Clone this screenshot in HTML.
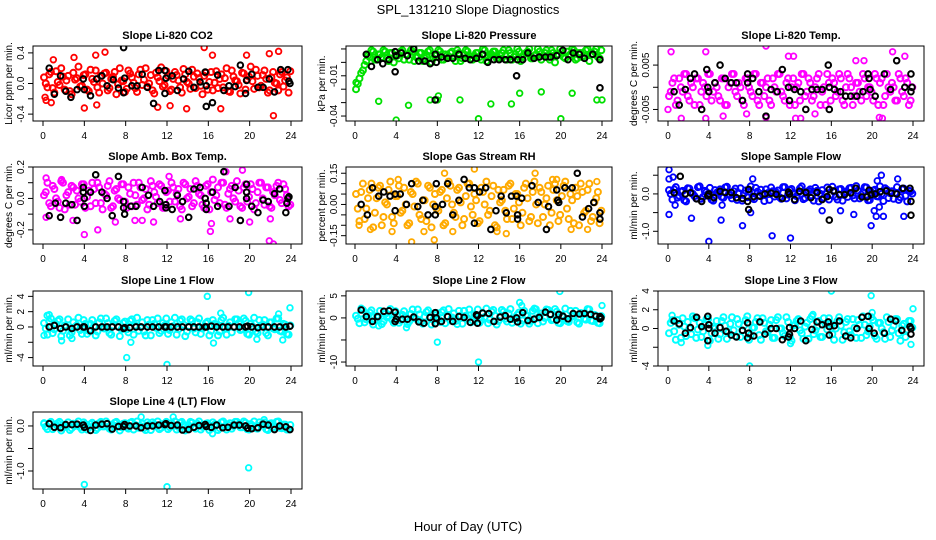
<!DOCTYPE html>
<html><head><meta charset="utf-8"><style>
body{margin:0;background:#fff;}
svg{display:block;font-family:"Liberation Sans",sans-serif;}
</style></head><body>
<svg id="chart" width="936" height="540" viewBox="0 0 936 540">
<rect width="936" height="540" fill="#fff"/>
<text x="468" y="14" font-size="13" text-anchor="middle">SPL_131210  Slope Diagnostics</text>
<text x="468" y="531" font-size="13" text-anchor="middle">Hour of Day (UTC)</text>
</svg>
<script>
// ---- data (values per minute) ----
const xTicks=[0,4,8,12,16,20,24];
const co2Band=[0.08,-0.05,0.15,-0.12,0.02,0.2,-0.08,0.1,-0.14,0.05,0.22,-0.03,0.12,-0.1,0.06,0.17,-0.12,0.0,0.14,-0.06,0.09,-0.14,0.2,0.03,-0.07,0.13,0.01,-0.11,0.18,0.05,-0.04,0.11,-0.13,0.08,0.21,-0.02,0.1,-0.08,0.15,0.04,-0.12,0.12,0.0,0.18,-0.06,0.07,-0.14,0.14,0.02,-0.09,0.16,0.06,-0.05,0.2,-0.11,0.09,0.03,-0.13,0.13,0.05,0.22,-0.07,0.1,-0.03,0.17,-0.12,0.08,0.01,-0.09,0.15,0.04,-0.12];
const co2Band2=[0.0,0.12,-0.06,0.16,-0.02,0.09,0.04,-0.1,0.14,0.07,-0.04,0.11,-0.08,0.18,0.02,-0.05,0.1,0.13,-0.09,0.06,0.15,-0.01,0.04,-0.11,0.17,0.08,-0.06,0.12,-0.02,0.2,0.0,-0.09,0.14,0.03,-0.04,0.16,-0.1,0.06,0.11,-0.05,0.19,0.02,-0.07,0.09,0.13,-0.03,0.1,-0.08,0.15,0.01,-0.06,0.12,0.07,-0.1,0.17,0.04,-0.02,0.14,-0.08,0.09,0.03,0.18,-0.05,0.11,0.06,-0.09,0.15,0.0,0.12,-0.04,0.08,0.16];
const co2Out=[[0.2,-0.18],[0.3,-0.22],[1,0.31],[15.6,0.47],[22.3,-0.42],[22.8,0.42],[6,0.41],[16.4,0.37],[4,-0.32],[5.2,-0.28],[13.9,-0.33],[17.2,-0.33],[11.1,-0.31],[12.3,-0.29],[19.7,0.37],[21.9,0.39],[0.8,-0.25],[5.1,0.37],[3,0.34]];
const co2Blk=[[0.6,0.2],[1.1,-0.14],[1.7,0.1],[2.2,-0.1],[2.7,-0.18],[3.3,-0.08],[3.9,0.06],[4,-0.08],[4.6,-0.16],[5.2,0.06],[5.7,0.1],[6.2,-0.03],[6.8,0.05],[7.3,-0.06],[7.8,0.47],[7.8,-0.12],[7.9,0.07],[8.6,-0.03],[9.1,-0.03],[9.6,0.12],[10.1,-0.05],[10.7,-0.26],[11.2,0.17],[11.8,0.17],[11.8,-0.13],[11.9,0.07],[12.5,0.1],[13,-0.09],[13.6,0.06],[14.1,0.16],[14.6,-0.05],[15.2,0.02],[15.7,0.15],[15.8,-0.3],[15.8,-0.03],[16.4,-0.25],[16.9,0.11],[17.5,-0.09],[18,-0.03],[18.6,-0.04],[19.1,0.24],[19.6,-0.13],[19.7,0.04],[20.2,0.12],[20.8,-0.05],[21.3,-0.05],[21.9,0.06],[22.4,-0.11],[23,0.18],[23.7,0.18],[23.8,0.03],[23.9,0.0]];

const presBand=[-0.02,-0.012,-0.006,0.001,0.004,0.008,0.002,0.006,0.009,0.003,0.007,0.0,0.005,0.008,0.002,0.006,0.009,0.001,0.004,0.007,0.003,0.008,0.0,0.005,0.009,0.002,0.006,0.004,0.008,0.001,0.007,0.003,0.009,0.005,0.002,0.007,0.004,0.01,0.001,0.006,0.008,0.003,0.005,0.009,0.002,0.007,0.004,0.01,0.001,0.006,0.008,0.003,0.005,0.01,0.002,0.007,0.004,0.009,0.0,0.006,0.008,0.003,0.005,0.01,0.002,0.007,0.004,0.009,0.001,0.006,0.01,0.003];
const presBand2=[-0.016,-0.008,-0.002,0.005,0.009,0.002,0.006,0.004,0.008,0.001,0.007,0.005,0.003,0.009,0.006,0.002,0.008,0.004,0.007,0.001,0.005,0.009,0.003,0.006,0.008,0.002,0.005,0.007,0.004,0.009,0.001,0.006,0.008,0.003,0.005,0.007,0.002,0.009,0.004,0.006,0.008,0.003,0.007,0.005,0.009,0.002,0.006,0.008,0.004,0.007,0.01,0.003,0.006,0.008,0.005,0.009,0.002,0.007,0.005,0.01,0.004,0.008,0.006,0.009,0.003,0.007,0.005,0.01,0.006,0.008,0.004,0.009];
const presOut=[[2.3,-0.029],[4,-0.043],[5.2,-0.032],[7.3,-0.028],[8,-0.028],[8.1,-0.025],[10.2,-0.028],[12,-0.042],[13.2,-0.031],[15.2,-0.031],[16,-0.023],[18.1,-0.022],[20,-0.042],[21.1,-0.023],[23.5,-0.028],[24,-0.028],[5.7,0.011],[0.1,-0.015]];
const presBlk=[[1.1,0.006],[1.6,-0.003],[2.2,0.002],[2.7,-0.001],[3.3,0.002],[3.9,0.008],[3.9,-0.007],[4,0.005],[4.5,0.007],[5.1,0.005],[5.7,0.01],[6.2,0.001],[6.8,0.001],[7.3,-0.001],[7.8,0.006],[7.8,-0.028],[7.9,0.0],[8.4,0.004],[9,0.003],[9.5,0.003],[10.1,0.006],[10.7,0.003],[11.2,0.002],[11.8,0.003],[12.4,0.006],[12.9,0.0],[13.5,0.002],[14,0.002],[14.6,0.002],[15.1,0.002],[15.7,-0.01],[15.8,0.002],[16.3,0.002],[16.8,0.007],[17.4,0.003],[17.9,0.004],[18.5,0.004],[19,0.004],[19.6,0.005],[20.2,0.009],[20.7,0.002],[21.2,0.007],[21.8,0.006],[22.3,0.003],[23.1,0.006],[23.8,0.002],[23.8,-0.019]];

const tempBand=[-0.002,0.001,-0.004,0.002,-0.001,0.003,-0.003,0.0,0.002,-0.004,0.001,-0.002,0.003,-0.001,0.0,-0.003,0.002,-0.004,0.001,0.003,-0.002,0.0,-0.004,0.002,-0.001,0.003,-0.003,0.001,-0.002,0.002,-0.004,0.0,0.003,-0.001,-0.003,0.002,0.0,-0.004,0.001,0.003,-0.002,0.002,-0.003,0.0,0.003,-0.001,-0.004,0.001,0.002,-0.002,0.003,-0.003,0.0,0.002,-0.004,0.001,-0.001,0.003,-0.002,0.0,-0.003,0.002,0.001,-0.004,0.003,-0.001,0.0,-0.003,0.002,-0.002,0.001,-0.003];
const tempBand2=[-0.001,0.002,-0.003,0.0,0.003,-0.002,0.001,-0.004,0.002,-0.001,0.0,0.003,-0.003,0.001,-0.002,0.002,-0.004,0.0,0.003,-0.001,0.001,-0.003,0.002,0.0,-0.002,0.003,-0.004,0.001,0.0,-0.003,0.002,-0.001,0.003,-0.002,0.001,-0.004,0.002,0.0,-0.003,0.003,-0.001,0.001,-0.002,0.002,-0.004,0.0,0.003,-0.003,0.001,-0.001,0.002,-0.004,0.003,0.0,-0.002,0.001,-0.003,0.002,0.0,-0.001,0.003,-0.004,0.002,-0.002,0.0,0.001,-0.003,0.003,-0.001,0.002,-0.004,0.0];
const tempOut=[[0.3,0.008],[3.7,0.008],[9.6,0.0093],[22,0.008],[23.2,0.007],[1.3,-0.007],[3.7,-0.007],[5.4,-0.0065],[9.6,-0.0068],[12.5,-0.007],[13,-0.007],[21,-0.007],[20.7,-0.0068],[19.2,0.006],[18.4,0.006],[11.8,0.007],[12.3,0.007],[0,-0.005],[7.7,-0.006],[14.4,-0.006]];
const tempBlk=[[0.6,-0.001],[1.1,-0.004],[1.7,-0.0005],[2.2,0.002],[2.6,0.003],[3.3,-0.005],[3.8,0.004],[3.9,0.0],[4,-0.001],[4.6,0.001],[5.1,0.005],[5.6,0.002],[6.2,0.001],[6.7,0.001],[7.3,-0.003],[7.8,0.001],[7.8,0.003],[8.3,0.002],[8.9,-0.001],[9.6,-0.0065],[10.1,-0.0005],[10.7,-0.001],[11.2,0.004],[11.8,0.0],[11.9,-0.003],[12.4,-0.0005],[13,-0.001],[13.5,-0.005],[14.1,-0.0005],[14.6,-0.0005],[15.1,-0.0005],[15.7,0.005],[15.8,-0.005],[15.8,0.0],[16.3,-0.0005],[16.9,-0.001],[17.4,-0.002],[17.9,-0.002],[18.5,-0.002],[19.1,-0.001],[19.6,0.003],[19.7,0.002],[19.8,-0.0005],[20.3,-0.002],[21.2,0.003],[21.8,-0.0005],[22.4,0.006],[23.2,0.0],[23.8,0.003],[23.8,-0.001],[23.9,0.0]];

const ambBand=[0.02,0.1,-0.05,0.06,-0.02,0.11,-0.07,0.04,0.08,-0.04,0.0,0.09,-0.06,0.05,0.1,-0.03,0.07,-0.07,0.02,0.11,-0.05,0.06,-0.01,0.09,-0.06,0.03,0.1,-0.04,0.07,0.0,-0.07,0.11,0.04,-0.03,0.08,-0.06,0.05,0.1,-0.02,0.06,-0.07,0.09,0.01,-0.05,0.11,0.03,-0.04,0.08,-0.07,0.12,0.02,-0.03,0.1,-0.06,0.06,0.0,0.11,-0.05,0.07,-0.02,0.09,-0.07,0.04,0.1,-0.04,0.07,-0.06,0.02,0.1,-0.03,0.06,-0.05];
const ambBand2=[0.04,-0.03,0.08,0.0,-0.06,0.1,0.02,-0.04,0.07,0.05,-0.02,0.09,0.01,-0.05,0.06,0.1,-0.03,0.03,0.08,-0.06,0.05,0.0,0.09,-0.02,0.07,-0.05,0.02,0.1,-0.01,0.06,-0.04,0.08,0.01,0.09,-0.06,0.04,-0.02,0.07,0.03,-0.05,0.1,0.0,0.06,-0.03,0.08,0.02,-0.06,0.09,0.04,-0.01,0.07,0.1,-0.04,0.03,0.08,-0.02,0.05,-0.06,0.09,0.01,0.06,-0.03,0.1,0.0,0.07,-0.05,0.04,0.08,-0.01,0.09,0.02,-0.04];
const ambOut=[[4,-0.23],[5.3,-0.2],[16.2,-0.21],[21.9,-0.27],[22.3,-0.29],[19.3,0.18],[17.7,0.17],[7,-0.15],[8.9,-0.14],[9.6,-0.14],[10.7,-0.15],[13.3,-0.13],[16.3,-0.16],[18.1,-0.13],[20,-0.15],[22,-0.13],[0.3,-0.12],[2.9,-0.14],[12.2,0.14],[0.3,0.13],[1.8,0.12]];
const ambBlk=[[0.6,-0.11],[1.2,-0.03],[1.7,-0.12],[2.2,-0.03],[2.8,-0.04],[3.3,-0.14],[3.9,0.07],[3.9,0.04],[4,0.0],[4,-0.05],[4.6,0.04],[5.1,0.15],[5.7,0.04],[6.2,0.0],[6.7,-0.11],[7.3,0.14],[7.8,-0.02],[7.8,-0.06],[7.9,-0.1],[8.5,-0.05],[9,-0.05],[9.6,0.07],[10.2,0.02],[10.7,-0.05],[11.3,-0.02],[11.8,0.05],[11.9,-0.04],[11.9,-0.06],[12.5,-0.07],[13,0.02],[13.5,-0.02],[14.1,-0.12],[14.6,0.06],[15.2,0.07],[15.7,0.0],[15.8,-0.03],[15.8,-0.07],[16.4,0.04],[16.9,-0.05],[17.5,0.17],[18,-0.05],[18.6,0.07],[19.1,-0.14],[19.7,0.09],[19.7,0.04],[19.7,0.0],[20.2,-0.05],[20.8,-0.09],[21.3,-0.01],[21.8,-0.02],[22.4,0.03],[22.9,0.06],[23.5,-0.09],[23.6,-0.03],[23.7,0.0],[23.8,0.01]];

const rhBand=[0.05,-0.08,0.1,-0.02,0.07,-0.11,0.03,0.09,-0.06,0.0,0.11,-0.09,0.04,-0.04,0.08,-0.1,0.06,-0.01,0.1,-0.07,0.02,0.09,-0.11,0.05,-0.03,0.07,-0.09,0.11,0.0,-0.06,0.08,-0.1,0.04,0.1,-0.05,0.02,-0.08,0.06,0.11,-0.03,0.09,-0.11,0.01,0.07,-0.07,0.1,-0.02,0.05,-0.1,0.08,0.03,-0.06,0.11,-0.09,0.06,0.0,0.09,-0.04,0.1,-0.08,0.04,0.11,-0.07,0.02,0.08,-0.1,0.06,-0.03,0.1,-0.06,0.03,-0.09];
const rhBand2=[-0.02,0.06,-0.07,0.03,0.1,-0.04,0.08,-0.1,0.01,0.07,-0.06,0.04,0.09,-0.03,0.0,-0.09,0.05,0.11,-0.05,0.02,-0.08,0.08,0.0,-0.02,0.06,-0.1,0.03,0.09,-0.04,0.07,0.01,-0.07,0.1,-0.01,0.05,-0.09,0.08,0.0,-0.05,0.04,-0.1,0.07,0.02,-0.03,0.09,-0.07,0.05,0.01,-0.04,0.1,-0.08,0.06,0.0,0.08,-0.06,0.03,-0.1,0.07,0.02,-0.05,0.09,-0.02,0.05,-0.09,0.04,0.1,-0.04,0.07,-0.08,0.01,0.06,-0.03];
const rhOut=[[4.2,0.12],[5.5,-0.18],[7.7,-0.17],[8.7,0.15],[1.5,-0.12],[3.6,-0.13],[11.6,0.17],[13.8,-0.13],[14.7,-0.14],[17.5,0.15],[19.2,0.12],[19.6,0.12],[22.6,-0.12],[23.5,0.11],[0.4,-0.1],[6.7,-0.13],[9.5,-0.13],[21.0,-0.12]];
const rhBlk=[[0.6,0.0],[1.2,-0.05],[1.7,0.08],[2.3,0.04],[2.8,0.06],[3.4,0.04],[3.9,0.05],[3.9,-0.03],[4.4,0.05],[5.0,0.0],[5.5,0.1],[6.1,-0.01],[6.6,0.02],[7.1,-0.05],[7.8,-0.01],[7.8,-0.05],[7.9,0.1],[8.5,0.0],[9,0.1],[9.5,-0.05],[10.1,0.02],[10.6,0.12],[11.1,0.08],[11.6,0.08],[11.6,-0.09],[12.1,0.06],[12.7,0.08],[13.2,-0.12],[13.7,-0.03],[14.2,0.04],[14.7,-0.04],[15.2,0.04],[15.7,0.04],[15.8,-0.05],[15.8,-0.07],[16.2,0.03],[17.2,0.09],[17.8,0.01],[18.6,-0.12],[18.8,-0.01],[19.6,0.07],[19.7,0.02],[19.8,0.01],[20.4,0.08],[21.1,0.08],[21.6,0.15],[22.1,-0.06],[22.7,-0.02],[23.2,0.01],[23.8,-0.04],[23.8,-0.07]];

const sampBand=[0.1,-0.15,0.18,-0.05,0.08,-0.2,0.14,0.0,-0.12,0.2,-0.08,0.05,0.16,-0.18,0.03,0.12,-0.1,0.19,-0.03,0.07,-0.16,0.15,0.01,-0.09,0.2,-0.14,0.06,0.11,-0.19,0.02,0.17,-0.07,0.09,-0.13,0.18,-0.02,0.13,-0.17,0.04,0.2,-0.11,0.08,-0.05,0.16,-0.2,0.1,0.0,-0.15,0.19,-0.08,0.12,-0.18,0.06,0.15,-0.04,0.21,-0.12,0.03,0.17,-0.16,0.09,-0.06,0.2,-0.19,0.11,0.02,-0.13,0.18,-0.09,0.14,-0.2,0.07];
const sampBand2=[0.0,0.12,-0.1,0.06,-0.17,0.15,0.03,-0.06,0.18,-0.13,0.08,0.0,-0.15,0.1,0.05,-0.08,0.17,-0.02,-0.12,0.14,0.02,-0.18,0.09,0.06,-0.1,0.16,-0.04,0.0,0.12,-0.16,0.07,0.04,-0.09,0.18,-0.12,0.1,0.01,-0.06,0.15,-0.14,0.05,0.12,-0.18,0.08,0.0,-0.1,0.17,-0.03,0.06,-0.15,0.13,0.02,-0.08,0.16,-0.12,0.09,-0.02,0.18,-0.17,0.04,0.11,-0.07,0.0,0.15,-0.11,0.07,0.03,-0.16,0.12,-0.05,0.08,0.01];
const sampOut=[[0.1,0.65],[0.1,-0.55],[0.1,0.4],[0.5,0.45],[0.7,-0.3],[2.3,-0.65],[4,-1.27],[5.2,-0.7],[7.3,-0.85],[8.3,0.4],[8.1,-0.5],[10.2,-1.12],[12,-1.18],[15.1,-0.45],[16.9,-0.45],[18.2,-0.55],[19.9,-0.85],[20.2,-0.45],[20.4,-0.6],[20.7,-0.35],[20.9,0.5],[21.1,-0.6],[22.5,0.4],[23.1,-0.6],[20.5,0.35],[5.3,-0.3]];
const sampBlk=[[0.6,0.03],[1.2,0.47],[1.7,0.0],[2.2,0.03],[2.8,-0.13],[3.3,-0.2],[3.9,-0.05],[4,0.0],[4.5,-0.1],[5.1,0.07],[5.6,0.04],[6.2,0.04],[6.7,-0.1],[7.3,-0.12],[7.8,-0.2],[7.9,0.12],[7.9,-0.42],[8.4,-0.07],[9,-0.06],[9.5,0.0],[10.1,0.02],[10.6,-0.01],[11.2,-0.12],[11.8,0.05],[11.9,0.0],[12.4,-0.15],[12.9,0.07],[13.5,0.04],[14,-0.1],[14.6,0.04],[15.1,-0.15],[15.6,-0.07],[15.8,0.12],[15.8,-0.7],[16.2,0.08],[16.8,-0.02],[17.3,-0.02],[17.9,0.03],[18.4,0.15],[19,-0.08],[19.5,-0.08],[19.7,0.1],[19.9,-0.02],[20.3,0.0],[20.8,0.06],[21.4,0.08],[21.9,0.02],[22.4,0.0],[23.0,0.15],[23.7,0.15],[23.8,-0.2],[23.8,-0.57]];

const l1Band=[0.5,-1.0,1.1,-0.3,0.8,-1.2,0.2,1.0,-0.7,0.0,1.2,-0.9,0.4,-0.5,0.9,-1.1,0.6,-0.1,1.1,-0.8,0.2,1.0,-1.2,0.5,-0.3,0.8,-1.0,1.2,0.0,-0.6,0.9,-1.1,0.4,1.1,-0.5,0.2,-0.9,0.6,1.2,-0.3,1.0,-1.2,0.1,0.8,-0.7,1.1,-0.2,0.5,-1.1,0.9,0.3,-0.6,1.2,-1.0,0.6,0.0,1.0,-0.4,1.1,-0.9,0.4,1.2,-0.8,0.2,0.9,-1.1,0.6,-0.3,1.1,-0.6,0.3,-1.0];
const l1Band2=[-0.2,0.7,-0.8,0.3,1.0,-0.5,0.0,-1.1,0.6,0.2,-0.4,0.9,-0.9,0.4,0.1,-0.6,1.1,-0.2,0.5,-1.0,0.8,0.0,-0.3,0.7,-0.7,1.0,0.2,-0.5,0.6,-1.1,0.3,0.9,-0.1,-0.8,0.5,1.1,-0.4,0.1,-1.0,0.8,0.3,-0.6,1.0,-0.2,0.6,-0.9,0.0,0.7,-0.5,0.4,-1.1,0.9,-0.1,0.2,-0.7,1.0,0.5,-0.3,0.8,-1.0,0.1,-0.6,0.9,0.3,-0.8,0.6,-0.2,1.1,-0.5,0.4,-0.9,0.2];
const l1Out=[[15.9,4.0],[19.9,4.5],[23.9,2.5],[8.1,-4.0],[12,-4.9],[8.5,-2.0],[16.5,-2.1],[0.1,-1.1],[0.4,1.5],[0.6,1.6],[1.8,-1.8],[17.2,1.8],[22.8,1.7],[2.8,-1.5],[20.7,-1.6],[23.2,-1.7]];
const blkHours=[0.6,1.1,1.7,2.2,2.8,3.3,3.9,4.0,4.6,5.1,5.7,6.2,6.7,7.3,7.8,7.9,8.4,9.0,9.5,10.1,10.6,11.2,11.8,11.9,12.4,13.0,13.5,14.1,14.6,15.1,15.7,15.8,16.3,16.8,17.4,17.9,18.5,19.0,19.6,19.8,20.2,20.8,21.3,21.8,22.4,22.9,23.5,23.9];
const l1BlkV=[0,0.2,-0.2,0,-0.2,0,0,0,-0.5,0,0,0,0,0,-0.2,-0.1,-0.1,0,0,0,0,0,0,0,0,0,0,0,0,0,0,0,0.1,0,0,0,0,0,0,0.1,0,-0.1,0,0,0,0,0,0.1];

const l2Band=[0.5,-1.2,1.8,-0.3,1.2,-1.5,0.4,1.6,-0.8,0.1,2.0,-1.1,0.7,-0.5,1.5,-1.4,0.9,-0.1,1.9,-0.9,0.3,1.7,-1.5,0.6,-0.3,1.3,-1.2,2.0,0.1,-0.7,1.6,-1.3,0.5,1.9,-0.6,0.3,-1.1,1.0,2.1,-0.4,1.8,-1.5,0.2,1.4,-0.8,2.0,-0.3,0.7,-1.3,1.6,0.4,-0.7,2.1,-1.2,1.0,0.0,1.8,-0.5,2.0,-1.1,0.6,2.1,-0.9,0.3,1.6,-1.3,1.0,-0.4,1.9,-0.7,0.5,-1.2];
const l2Band2=[-0.2,1.0,-1.0,0.5,1.7,-0.6,0.1,-1.4,0.9,0.4,-0.4,1.5,-1.1,0.7,0.2,-0.8,1.9,-0.2,0.8,-1.3,1.3,0.0,-0.4,1.1,-0.9,1.7,0.4,-0.6,1.0,-1.4,0.5,1.6,-0.1,-1.0,0.8,1.9,-0.5,0.2,-1.2,1.4,0.5,-0.7,1.8,-0.2,1.0,-1.1,0.1,1.2,-0.6,0.7,-1.3,1.6,-0.1,0.4,-0.8,1.9,0.8,-0.3,1.4,-1.2,0.2,-0.7,1.6,0.5,-1.0,1.1,-0.2,2.0,-0.6,0.7,-1.1,0.4];
const l2Out=[[12,-10],[8,-5.5],[19.9,6],[16,3.5],[16.2,2.8],[24,2.8],[0.6,2.2],[5,-2.2],[2.3,-1.8],[17.6,2.0]];
const l2Blk=[[0.6,1.8],[1.1,0.3],[1.7,-0.8],[2.2,0.3],[2.8,1.5],[3.3,1.6],[3.9,1.3],[3.9,-0.8],[4.0,-0.3],[4.6,-0.3],[5.1,-0.3],[5.7,0.2],[6.2,-0.9],[6.7,-1.2],[7.3,0.1],[7.8,1.2],[7.8,-1.3],[7.9,0.0],[8.4,-0.8],[9,0.3],[9.5,-0.8],[10.1,0.3],[10.6,0.1],[11.2,-1.0],[11.8,0.7],[11.9,0.5],[11.9,-1.2],[12.4,1.1],[13,1.0],[13.5,-0.8],[14.1,0.2],[14.6,0.5],[15.1,-0.3],[15.7,0.0],[15.8,-0.9],[16.3,1.2],[16.8,-0.6],[17.4,-0.3],[17.9,0.1],[18.5,1.3],[19.0,0.8],[19.6,-0.5],[19.8,0.8],[20.2,0.4],[20.7,-0.2],[21.2,1.0],[21.8,0.9],[22.3,1.0],[22.9,0.8],[23.4,0.4],[23.8,-0.2],[23.8,0.3],[23.9,0.0]];

const l3Band=[-0.5,0.9,-1.2,0.4,1.1,-0.8,0.0,1.3,-1.0,0.6,-0.3,1.0,-1.3,0.2,0.8,-0.6,1.2,-1.1,0.5,-0.2,1.0,-0.9,0.3,1.3,-0.7,0.1,1.1,-1.2,0.6,-0.4,0.9,-1.0,1.2,0.0,-0.8,0.7,-1.3,0.4,1.0,-0.5,0.2,-1.1,1.3,-0.2,0.8,-0.9,0.5,1.1,-0.6,0.0,1.2,-1.2,0.7,-0.3,1.0,-1.0,0.4,1.3,-0.7,0.2,0.9,-1.1,0.6,-0.4,1.2,-0.9,0.3,1.0,-1.3,0.5,-0.1,0.8];
const l3Band2=[0.6,-0.3,0.9,-1.0,0.2,0.7,-0.6,1.1,-0.1,-0.9,0.4,1.0,-0.5,0.0,-1.1,0.8,0.3,-0.4,1.2,-0.8,0.5,-0.2,0.9,-1.2,0.1,0.7,-0.7,1.1,-0.3,0.4,-1.0,0.9,0.0,-0.5,1.2,-0.9,0.3,0.8,-0.2,-1.1,0.6,1.0,-0.6,0.2,-0.9,1.1,-0.1,0.5,-1.2,0.8,0.3,-0.4,1.0,-0.7,0.1,0.9,-1.0,0.4,-0.3,1.2,-0.8,0.6,0.0,-1.1,0.7,-0.2,1.0,-0.5,0.3,-0.9,0.8,0.1];
const l3Out=[[8,-4],[16,4],[19.9,3.5],[24,2.1],[20,1.7],[3.9,-1.8],[1.3,-1.5],[23.8,-1.7],[0.4,1.4],[12,-1.6],[14.2,1.5]];
const l3Blk=[[0.6,0.8],[1.1,0.5],[1.7,-0.5],[2.2,0.1],[2.8,1.2],[3.3,0.2],[3.9,-1.3],[3.9,1.3],[4,0.4],[4,0],[4.6,-0.5],[5.1,0.1],[5.7,-0.3],[6.2,-0.7],[6.7,-0.9],[7.3,-0.2],[7.8,0.6],[7.8,-1.0],[7.9,-0.5],[8.4,-0.8],[9,0.7],[9.5,-0.6],[10.1,0.0],[10.6,0.0],[11.2,-1.2],[11.8,-0.9],[11.9,0.1],[11.9,-0.6],[12.4,0.0],[13,0.8],[13.5,-1.3],[14.1,-0.1],[14.6,0.7],[15.1,0.4],[15.7,0.7],[15.8,0.2],[15.8,-0.7],[16.3,0.3],[16.8,0.8],[17.4,-0.8],[17.9,-1.0],[18.5,0.0],[19.0,1.2],[19.6,1.3],[19.7,0.0],[20.2,-0.5],[21.2,-0.5],[21.8,1.0],[22.3,0.8],[22.9,-0.2],[23.7,0.2],[23.8,-0.6],[23.8,0.0]];

const l4Band=[0.05,-0.07,0.09,-0.02,0.06,-0.1,0.03,0.08,-0.05,0.0,0.1,-0.08,0.04,-0.03,0.07,-0.09,0.06,-0.01,0.1,-0.06,0.02,0.09,-0.1,0.05,-0.03,0.07,-0.08,0.1,0.0,-0.05,0.08,-0.09,0.04,0.1,-0.04,0.02,-0.07,0.06,0.1,-0.02,0.09,-0.1,0.01,0.07,-0.06,0.1,-0.02,0.05,-0.09,0.08,0.03,-0.05,0.1,-0.08,0.06,0.0,0.09,-0.03,0.1,-0.07,0.04,0.1,-0.06,0.02,0.08,-0.09,0.06,-0.03,0.1,-0.05,0.03,-0.08];
const l4Band2=[-0.02,0.06,-0.07,0.03,0.09,-0.04,0.0,-0.09,0.05,0.02,-0.03,0.08,-0.08,0.04,0.01,-0.05,0.09,-0.01,0.05,-0.08,0.07,0.0,-0.03,0.06,-0.06,0.09,0.02,-0.04,0.05,-0.09,0.03,0.08,-0.01,-0.07,0.04,0.09,-0.03,0.01,-0.08,0.07,0.03,-0.05,0.09,-0.02,0.05,-0.08,0.0,0.06,-0.04,0.03,-0.09,0.08,-0.01,0.02,-0.06,0.09,0.04,-0.03,0.07,-0.08,0.01,-0.05,0.08,0.03,-0.07,0.05,-0.02,0.09,-0.04,0.03,-0.08,0.02];
const l4Out=[[4,-1.3],[12,-1.35],[19.9,-0.93],[9.5,0.2],[12.6,0.2],[16.4,-0.17],[21.4,0.14],[0.1,0.07]];
const l4BlkV=[0.05,-0.03,-0.04,0.03,0.03,0.04,0.02,-0.03,-0.1,0.02,0.04,0.05,-0.07,-0.01,-0.01,0.03,0.0,0.0,-0.04,0.0,0.0,0.02,0.03,0.05,0.01,0.02,-0.09,-0.08,-0.03,0.01,0.03,-0.01,-0.03,0.02,-0.04,-0.03,0.02,0.02,0.0,-0.05,-0.06,-0.04,0.04,0.02,-0.08,0.0,-0.02,-0.08];

// ---- layout ----
const cols=[{l:33,r:302,x0:43,x1:291},{l:346,r:612,x0:355,x1:602},{l:658,r:924,x0:668,x1:913}];
const rows=[{t:46,b:121},{t:167,b:244},{t:291,b:366},{t:412,b:489}];
const pairs=(h,v)=>h.map((x,i)=>[x,v[i]]).filter(p=>p[1]!==undefined);
const panels=[
 {name:'co2',title:'Slope Li-820 CO2',ylab:'Licor ppm per min.',c:0,r:0,ymin:-0.49,ymax:0.49,ticks:[-0.4,-0.2,0,0.2,0.4],labels:{'-0.4':'-0.4','0':'0.0','0.4':'0.4'},col:'#ff0000',band:co2Band,band2:co2Band2,out:co2Out,blk:co2Blk},
 {name:'pressure',title:'Slope Li-820 Pressure',ylab:'kPa per min.',c:1,r:0,ymin:-0.0437,ymax:0.0122,ticks:[0.01,0,-0.01,-0.02,-0.03,-0.04],labels:{'-0.01':'-0.01','-0.04':'-0.04'},col:'#00e000',band:presBand,band2:presBand2,out:presOut,blk:presBlk},
 {name:'temp',title:'Slope Li-820 Temp.',ylab:'degrees C per min.',c:2,r:0,ymin:-0.0076,ymax:0.0093,ticks:[0.005,0,-0.005],labels:{'0.005':'0.005','-0.005':'-0.005'},col:'#ff00ff',band:tempBand,band2:tempBand2,out:tempOut,blk:tempBlk},
 {name:'amb-box-temp',title:'Slope Amb. Box Temp.',ylab:'degrees C per min.',c:0,r:1,ymin:-0.29,ymax:0.2,ticks:[0.2,0.1,0,-0.1,-0.2],labels:{'0.2':'0.2','0':'0.0','-0.2':'-0.2'},col:'#ff00ff',band:ambBand,band2:ambBand2,out:ambOut,blk:ambBlk},
 {name:'gas-rh',title:'Slope Gas Stream RH',ylab:'percent per min.',c:1,r:1,ymin:-0.19,ymax:0.18,ticks:[0.15,0.1,0.05,0,-0.05,-0.1,-0.15],labels:{'0.15':'0.15','0':'0.00','-0.15':'-0.15'},col:'#ffaa00',band:rhBand,band2:rhBand2,out:rhOut,blk:rhBlk},
 {name:'sample-flow',title:'Slope Sample Flow',ylab:'ml/min per min.',c:2,r:1,ymin:-1.34,ymax:0.72,ticks:[0.5,0,-0.5,-1],labels:{'0':'0.0','-1':'-1.0'},col:'#0000ff',band:sampBand,band2:sampBand2,out:sampOut,blk:sampBlk},
 {name:'line1-flow',title:'Slope Line 1 Flow',ylab:'ml/min per min.',c:0,r:2,ymin:-5.1,ymax:4.7,ticks:[4,2,0,-2,-4],labels:{'4':'4','2':'2','0':'0','-4':'-4'},col:'#00ffff',band:l1Band,band2:l1Band2,out:l1Out,blk:pairs(blkHours,l1BlkV)},
 {name:'line2-flow',title:'Slope Line 2 Flow',ylab:'ml/min per min.',c:1,r:2,ymin:-10.9,ymax:6.1,ticks:[5,0,-5,-10],labels:{'5':'5','0':'0','-10':'-10'},col:'#00ffff',band:l2Band,band2:l2Band2,out:l2Out,blk:l2Blk},
 {name:'line3-flow',title:'Slope Line 3 Flow',ylab:'ml/min per min.',c:2,r:2,ymin:-4,ymax:4,ticks:[4,2,0,-2,-4],labels:{'4':'4','2':'2','0':'0','-4':'-4'},col:'#00ffff',band:l3Band,band2:l3Band2,out:l3Out,blk:l3Blk},
 {name:'line4-flow',title:'Slope Line 4 (LT) Flow',ylab:'ml/min per min.',c:0,r:3,ymin:-1.4,ymax:0.31,ticks:[0,-0.5,-1],labels:{'0':'0.0','-1':'-1.0'},col:'#00ffff',band:l4Band,band2:l4Band2,out:l4Out,blk:pairs(blkHours,l4BlkV)}
];
const NS='http://www.w3.org/2000/svg';
const svg=document.getElementById('chart');
function mk(tag,attrs,parent){const e=document.createElementNS(NS,tag);for(const k in attrs)e.setAttribute(k,attrs[k]);parent.appendChild(e);return e;}
panels.forEach(p=>{
 const C=cols[p.c],R=rows[p.r];
 const xs=h=>C.x0+(h/24)*(C.x1-C.x0);
 const ys=v=>R.b-(v-p.ymin)/(p.ymax-p.ymin)*(R.b-R.t);
 const g=mk('g',{},svg);
 
 
 const t=mk('text',{x:(C.l+C.r)/2,y:R.t-7,'font-size':11,'font-weight':'bold','text-anchor':'middle'},g);
 t.textContent=p.title;
 
 
 const pg=mk('g',{fill:'none'},g);
 
 
 const clipId='clip-'+p.name;
 const cp=mk('clipPath',{id:clipId},g);mk('rect',{x:C.l,y:R.t,width:C.r-C.l,height:R.b-R.t},cp);
 pg.setAttribute('clip-path','url(#'+clipId+')');
 p.band.forEach((v,i)=>{
  const c=mk('circle',{cx:xs(0.1+i/3),cy:ys(v),r:3,stroke:p.col,'stroke-width':2},pg);
  
  
 });
 p.band2.forEach((v,i)=>{
  const c=mk('circle',{cx:xs(0.1+1/6+i/3),cy:ys(v),r:3,stroke:p.col,'stroke-width':2},pg);
  
  
 });
 p.out.forEach(d=>{
  const c=mk('circle',{cx:xs(d[0]),cy:ys(d[1]),r:2.8,stroke:p.col,'stroke-width':1.8},pg);
  
  
 });
 p.blk.forEach(d=>{
  const c=mk('circle',{cx:xs(d[0]),cy:ys(d[1]),r:2.8,stroke:'#000','stroke-width':2},pg);
  
  
 });
 const box=mk('rect',{x:C.l,y:R.t,width:C.r-C.l,height:R.b-R.t,fill:'none',stroke:'#000','stroke-width':1},g);
 
 
 xTicks.forEach(h=>{
  mk('line',{x1:xs(h),x2:xs(h),y1:R.b,y2:R.b+5,stroke:'#000'},g);
  const tx=mk('text',{x:xs(h),y:R.b+18,'font-size':10,'text-anchor':'middle'},g);
  tx.textContent=h;
  
  
 });
 p.ticks.forEach(v=>{
  const y=ys(v);
  mk('line',{x1:C.l-5,x2:C.l,y1:y,y2:y,stroke:'#000'},g);
  const lab=p.labels[String(v)];
  if(lab){
   const ty=mk('text',{x:0,y:0,'font-size':10,'text-anchor':'middle',transform:'translate('+(C.l-9)+','+y+') rotate(-90)'},g);
   ty.textContent=lab;
   
   
  }
 });
 const yl=mk('text',{x:0,y:0,'font-size':10,'text-anchor':'middle',transform:'translate('+(C.l-21)+','+((R.t+R.b)/2)+') rotate(-90)'},g);
 yl.textContent=p.ylab;
 
 
});
</script>
</body></html>
